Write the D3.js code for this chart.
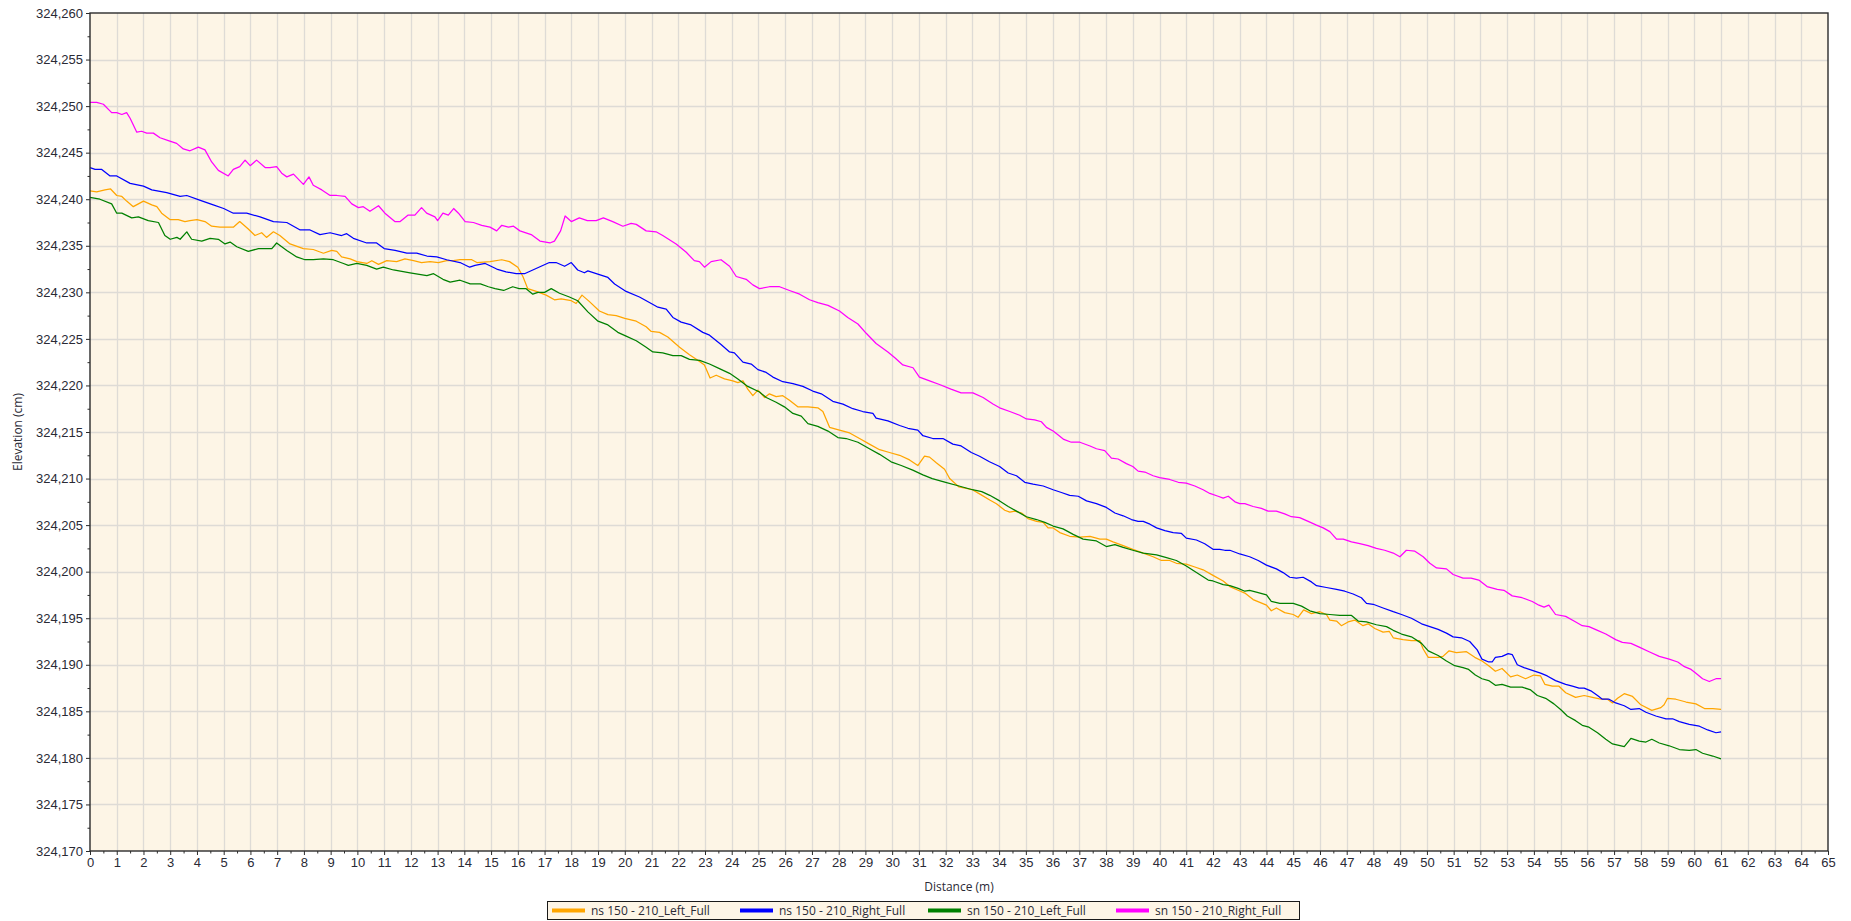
<!DOCTYPE html>
<html>
<head>
<meta charset="utf-8">
<script src="https://cdn.jsdelivr.net/npm/d3@7"></script>
<style>
  html, body { margin: 0; padding: 0; background: #ffffff; }
  svg { display: block; font-family: "Open Sans", "Segoe UI", "DejaVu Sans", sans-serif; }
</style>
</head>
<body>
<svg id="chart" width="1851" height="921"></svg>
<script>
// ---- Profile data: [distance (m), elevation (cm)] ----
const seriesNames = [
  "ns 150 - 210_Left_Full",
  "ns 150 - 210_Right_Full",
  "sn 150 - 210_Left_Full",
  "sn 150 - 210_Right_Full"
];
const seriesColors = ["#FFA500", "#0000FF", "#008000", "#FF00FF"];

const nsLeftFull = [
  [0,324240.9],[0.25,324240.8],[0.56,324241.0],[0.77,324241.1],[1.0,324240.4],[1.19,324240.3],[1.37,324239.8],[1.62,324239.2],
  [2.0,324239.8],[2.31,324239.4],[2.5,324239.2],[2.68,324238.5],[3.0,324237.8],[3.3,324237.8],[3.55,324237.6],[3.74,324237.7],
  [4.0,324237.8],[4.3,324237.6],[4.55,324237.1],[4.86,324237.0],[5.36,324237.0],[5.6,324237.6],[5.92,324236.8],[6.17,324236.1],
  [6.42,324236.4],[6.6,324235.9],[6.86,324236.5],[7.1,324236.1],[7.48,324235.2],[7.98,324234.7],[8.35,324234.6],[8.73,324234.2],
  [9.04,324234.5],[9.23,324234.4],[9.41,324233.8],[9.73,324233.6],[9.98,324233.3],[10.35,324233.1],[10.54,324233.4],[10.79,324233.0],
  [11.1,324233.4],[11.47,324233.3],[11.78,324233.6],[12.1,324233.4],[12.4,324233.2],[12.72,324233.3],[13.03,324233.2],[13.34,324233.4],
  [13.59,324233.4],[13.84,324233.5],[14.28,324233.5],[14.47,324233.2],[14.96,324233.3],[15.4,324233.5],[15.69,324233.3],[16.0,324232.7],
  [16.19,324231.7],[16.37,324230.4],[16.69,324230.1],[17.06,324229.7],[17.37,324229.2],[17.62,324229.3],[18.0,324229.1],[18.18,324228.8],
  [18.4,324229.7],[18.68,324229.0],[19.05,324228.0],[19.37,324227.6],[19.68,324227.5],[20.0,324227.2],[20.43,324226.9],[20.8,324226.3],
  [20.99,324225.8],[21.3,324225.7],[21.61,324225.2],[22.05,324224.1],[22.42,324223.3],[22.73,324222.7],[22.98,324222.2],[23.19,324220.8],
  [23.42,324221.1],[23.73,324220.7],[24.04,324220.5],[24.23,324220.3],[24.42,324220.5],[24.6,324219.6],[24.79,324218.9],[24.98,324219.5],
  [25.23,324218.7],[25.41,324219.1],[25.66,324218.8],[25.91,324218.9],[26.16,324218.4],[26.47,324217.7],[26.85,324217.7],[27.22,324217.6],
  [27.41,324217.2],[27.66,324215.5],[28.03,324215.2],[28.41,324214.9],[28.78,324214.3],[29.15,324213.7],[29.53,324213.1],[29.9,324212.8],
  [30.28,324212.5],[30.65,324212.0],[30.96,324211.4],[31.21,324212.4],[31.4,324212.3],[31.65,324211.7],[31.96,324211.0],[32.15,324210.0],
  [32.5,324209.1],[33.0,324208.8],[33.3,324208.3],[33.65,324207.7],[33.9,324207.3],[34.21,324206.6],[34.4,324206.4],[34.59,324206.5],
  [34.84,324206.3],[35.08,324205.7],[35.4,324205.4],[35.65,324205.3],[35.83,324204.7],[36.02,324204.7],[36.27,324204.2],[36.64,324203.8],
  [37.02,324203.7],[37.4,324203.8],[37.77,324203.5],[38.01,324203.5],[38.26,324203.2],[38.64,324202.8],[39.0,324202.4],[39.39,324202.0],
  [39.76,324201.6],[40.07,324201.2],[40.38,324201.2],[40.63,324200.9],[41.0,324200.8],[41.32,324200.5],[41.63,324200.2],[42.0,324199.6],
  [42.38,324199.0],[42.63,324198.4],[42.94,324198.0],[43.19,324197.7],[43.5,324197.0],[43.75,324196.7],[44.0,324196.4],[44.18,324195.8],
  [44.37,324196.1],[44.68,324195.6],[45.0,324195.4],[45.18,324195.1],[45.39,324195.9],[45.68,324195.5],[46.0,324195.7],[46.24,324195.4],
  [46.37,324194.8],[46.62,324194.7],[46.8,324194.2],[47.05,324194.6],[47.3,324194.8],[47.61,324194.2],[47.8,324194.4],[48.05,324193.9],
  [48.36,324193.5],[48.59,324193.6],[48.74,324192.9],[49.11,324192.7],[49.42,324192.6],[49.73,324192.6],[49.86,324191.7],[50.05,324190.8],
  [50.42,324190.8],[50.6,324190.9],[50.83,324191.5],[51.1,324191.3],[51.48,324191.4],[51.79,324190.8],[52.06,324190.4],[52.31,324189.9],
  [52.56,324189.3],[52.81,324189.6],[53.13,324188.7],[53.38,324188.9],[53.69,324188.5],[54.0,324188.9],[54.25,324188.8],[54.41,324187.9],
  [54.69,324187.7],[54.94,324187.7],[55.19,324187.0],[55.56,324186.5],[55.88,324186.7],[56.19,324186.5],[56.5,324186.3],[56.75,324186.3],
  [56.94,324185.9],[57.13,324186.4],[57.38,324186.9],[57.69,324186.6],[58.0,324185.7],[58.41,324185.1],[58.75,324185.4],[58.87,324185.7],
  [59.0,324186.4],[59.31,324186.3],[59.69,324186.0],[60.06,324185.8],[60.38,324185.3],[60.69,324185.3],[61.0,324185.2]
];

const nsRightFull = [
  [0,324243.4],[0.19,324243.2],[0.44,324243.2],[0.75,324242.5],[1.0,324242.5],[1.5,324241.7],[2.0,324241.4],[2.31,324241.0],
  [2.87,324240.7],[3.37,324240.3],[3.62,324240.4],[4.1,324239.9],[4.61,324239.4],[5.0,324239.0],[5.36,324238.5],[5.86,324238.5],
  [6.36,324238.1],[6.86,324237.6],[7.36,324237.5],[7.86,324236.7],[8.23,324236.7],[8.6,324236.2],[8.98,324236.4],[9.41,324236.1],
  [9.6,324236.3],[9.85,324235.8],[10.35,324235.3],[10.72,324235.3],[11.0,324234.7],[11.41,324234.5],[11.85,324234.2],[12.22,324234.2],
  [12.6,324233.9],[12.97,324233.8],[13.34,324233.5],[13.84,324233.2],[14.2,324232.7],[14.4,324232.9],[14.78,324233.1],[15.21,324232.5],
  [15.56,324232.2],[15.94,324232.0],[16.25,324232.0],[16.56,324232.4],[16.87,324232.8],[17.18,324233.2],[17.43,324233.2],[17.75,324232.8],
  [18.0,324233.2],[18.24,324232.4],[18.49,324232.1],[18.62,324232.3],[19.05,324231.9],[19.37,324231.6],[19.62,324230.9],[20.05,324230.1],
  [20.55,324229.5],[20.99,324228.8],[21.24,324228.4],[21.55,324228.2],[21.8,324227.3],[22.11,324226.8],[22.48,324226.5],[22.92,324225.7],
  [23.17,324225.4],[23.6,324224.4],[23.92,324223.6],[24.1,324223.5],[24.42,324222.5],[24.73,324222.3],[24.98,324221.7],[25.29,324221.4],
  [25.54,324220.9],[25.91,324220.4],[26.29,324220.2],[26.66,324219.9],[27.03,324219.4],[27.35,324219.1],[27.78,324218.3],[28.16,324218.0],
  [28.53,324217.5],[28.9,324217.2],[29.28,324217.0],[29.4,324216.5],[29.84,324216.2],[30.28,324215.7],[30.59,324215.4],[30.96,324215.2],
  [31.15,324214.6],[31.52,324214.3],[31.9,324214.3],[32.27,324213.7],[32.58,324213.5],[32.96,324212.8],[33.27,324212.4],[33.64,324211.8],
  [34.02,324211.3],[34.34,324210.6],[34.65,324210.3],[34.96,324209.6],[35.27,324209.4],[35.65,324209.2],[36.02,324208.8],[36.33,324208.5],
  [36.64,324208.2],[36.96,324208.1],[37.27,324207.6],[37.64,324207.3],[38.01,324206.9],[38.33,324206.3],[38.64,324206.0],[38.95,324205.6],
  [39.2,324205.4],[39.39,324205.4],[39.64,324205.1],[39.89,324204.7],[40.2,324204.4],[40.51,324204.2],[40.82,324204.1],[41.0,324203.6],
  [41.38,324203.4],[41.69,324203.0],[42.0,324202.4],[42.25,324202.4],[42.44,324202.3],[42.63,324202.3],[43.0,324201.9],[43.37,324201.6],
  [43.69,324201.2],[44.0,324200.7],[44.37,324200.3],[44.62,324199.9],[44.87,324199.4],[45.12,324199.3],[45.37,324199.4],[45.68,324198.9],
  [45.87,324198.5],[46.24,324198.3],[46.62,324198.1],[46.93,324197.9],[47.24,324197.6],[47.55,324197.2],[47.74,324196.6],[47.99,324196.5],
  [48.36,324196.1],[48.74,324195.7],[49.05,324195.4],[49.42,324195.0],[49.8,324194.4],[50.11,324194.1],[50.42,324193.8],[50.73,324193.4],
  [50.98,324193.0],[51.29,324192.9],[51.6,324192.5],[51.88,324191.6],[52.06,324190.6],[52.31,324190.3],[52.44,324190.3],[52.56,324190.8],
  [52.81,324190.9],[53.04,324191.2],[53.19,324191.1],[53.38,324190.0],[53.63,324189.7],[53.94,324189.4],[54.25,324189.1],[54.5,324188.8],
  [54.81,324188.3],[55.19,324187.9],[55.44,324187.7],[55.69,324187.5],[55.88,324187.5],[56.13,324187.2],[56.38,324186.7],[56.56,324186.3],
  [56.81,324186.3],[57.06,324185.9],[57.38,324185.6],[57.63,324185.2],[57.94,324185.3],[58.19,324184.9],[58.56,324184.5],[58.94,324184.2],
  [59.19,324184.2],[59.44,324183.9],[59.81,324183.6],[60.19,324183.4],[60.5,324183.0],[60.81,324182.7],[61.0,324182.8]
];

const snLeftFull = [
  [0,324240.2],[0.37,324240.0],[0.81,324239.5],[1.0,324238.5],[1.19,324238.5],[1.56,324238.0],[1.81,324238.1],[2.18,324237.7],
  [2.56,324237.5],[2.8,324236.1],[3.0,324235.7],[3.25,324235.9],[3.37,324235.7],[3.62,324236.5],[3.8,324235.7],[4.18,324235.5],
  [4.49,324235.8],[4.8,324235.7],[5.05,324235.2],[5.24,324235.4],[5.49,324234.9],[5.92,324234.4],[6.3,324234.7],[6.8,324234.7],
  [6.98,324235.3],[7.36,324234.5],[7.73,324233.8],[8.04,324233.5],[8.35,324233.5],[8.73,324233.6],[9.1,324233.5],[9.48,324233.1],
  [9.66,324232.9],[9.98,324233.1],[10.35,324232.9],[10.72,324232.5],[10.97,324232.7],[11.35,324232.4],[11.97,324232.1],[12.6,324231.8],
  [12.85,324232.0],[13.2,324231.4],[13.47,324231.1],[13.84,324231.3],[14.22,324230.9],[14.6,324230.9],[14.9,324230.6],[15.15,324230.4],
  [15.47,324230.2],[15.81,324230.6],[16.05,324230.4],[16.3,324230.4],[16.56,324229.8],[16.75,324230.0],[17.0,324230.0],[17.25,324230.4],
  [17.56,324229.9],[17.93,324229.5],[18.24,324229.1],[18.62,324227.9],[19.0,324226.9],[19.37,324226.5],[19.74,324225.7],[20.05,324225.3],
  [20.43,324224.8],[20.8,324224.1],[21.05,324223.6],[21.42,324223.5],[21.8,324223.2],[22.11,324223.2],[22.42,324222.8],[22.8,324222.7],
  [23.17,324222.3],[23.54,324221.8],[23.92,324221.3],[24.23,324220.7],[24.6,324219.9],[25.04,324219.3],[25.29,324218.7],[25.66,324218.2],
  [25.97,324217.7],[26.29,324217.0],[26.6,324216.7],[26.85,324215.9],[27.22,324215.6],[27.6,324215.1],[27.97,324214.4],[28.28,324214.3],
  [28.72,324213.9],[29.15,324213.2],[29.53,324212.6],[29.96,324211.8],[30.34,324211.4],[30.77,324210.9],[31.15,324210.4],[31.5,324210.0],
  [32.0,324209.6],[32.5,324209.2],[33.0,324208.8],[33.35,324208.6],[33.65,324208.2],[34.02,324207.6],[34.34,324207.0],[34.65,324206.5],
  [35.02,324205.9],[35.4,324205.6],[35.71,324205.3],[36.02,324204.9],[36.39,324204.6],[36.77,324204.0],[37.14,324203.5],[37.64,324203.3],
  [38.01,324202.7],[38.33,324202.9],[38.64,324202.6],[39.0,324202.3],[39.39,324202.0],[39.89,324201.8],[40.26,324201.5],[40.63,324201.2],
  [41.0,324200.6],[41.38,324199.9],[41.82,324199.1],[42.0,324199.0],[42.38,324198.6],[42.63,324198.5],[42.94,324198.2],[43.19,324197.9],
  [43.37,324198.0],[43.62,324197.8],[44.0,324197.5],[44.18,324196.8],[44.5,324196.6],[45.0,324196.6],[45.31,324196.3],[45.62,324195.8],
  [46.0,324195.5],[46.37,324195.4],[46.74,324195.3],[47.18,324195.3],[47.43,324194.7],[47.74,324194.6],[48.11,324194.3],[48.49,324194.1],
  [48.74,324193.7],[49.05,324193.3],[49.42,324193.0],[49.8,324192.3],[50.05,324191.5],[50.42,324191.0],[50.73,324190.4],[51.04,324189.9],
  [51.35,324189.7],[51.56,324189.5],[51.81,324188.9],[52.06,324188.5],[52.31,324188.3],[52.56,324187.8],[52.81,324187.9],[53.13,324187.6],
  [53.56,324187.6],[53.88,324187.3],[54.13,324186.7],[54.44,324186.4],[54.75,324185.8],[55.0,324185.2],[55.25,324184.5],[55.56,324184.0],
  [55.81,324183.5],[56.06,324183.3],[56.38,324182.7],[56.69,324182.0],[56.94,324181.5],[57.38,324181.2],[57.63,324182.1],[57.94,324181.8],
  [58.19,324181.7],[58.41,324182.0],[58.69,324181.6],[59.06,324181.3],[59.44,324180.9],[59.81,324180.8],[60.06,324180.9],[60.31,324180.5],
  [60.69,324180.2],[61.0,324179.9]
];

const snRightFull = [
  [0,324250.4],[0.25,324250.4],[0.5,324250.2],[0.81,324249.3],[1.0,324249.3],[1.19,324249.1],[1.37,324249.3],[1.5,324248.7],
  [1.75,324247.2],[1.93,324247.3],[2.12,324247.1],[2.37,324247.1],[2.62,324246.6],[2.93,324246.3],[3.24,324246.0],[3.49,324245.4],
  [3.74,324245.2],[4.05,324245.6],[4.3,324245.3],[4.55,324244.0],[4.8,324243.1],[5.17,324242.5],[5.36,324243.2],[5.6,324243.5],
  [5.8,324244.2],[5.99,324243.6],[6.23,324244.2],[6.55,324243.4],[6.73,324243.4],[6.98,324243.5],[7.17,324242.8],[7.36,324242.4],
  [7.61,324242.7],[7.98,324241.6],[8.19,324242.4],[8.35,324241.5],[8.67,324241.0],[8.98,324240.4],[9.23,324240.4],[9.54,324240.3],
  [9.79,324239.5],[10.04,324239.1],[10.22,324239.2],[10.47,324238.7],[10.79,324239.3],[11.03,324238.5],[11.4,324237.6],[11.6,324237.6],
  [11.9,324238.3],[12.15,324238.3],[12.4,324239.1],[12.59,324238.5],[12.9,324238.1],[13.0,324237.7],[13.2,324238.5],[13.4,324238.3],
  [13.6,324239.0],[13.78,324238.5],[14.03,324237.6],[14.34,324237.5],[14.65,324237.2],[14.96,324237.0],[15.21,324236.6],[15.4,324237.2],
  [15.65,324237.0],[15.84,324237.1],[16.08,324236.6],[16.5,324236.2],[16.83,324235.5],[17.2,324235.3],[17.37,324235.5],[17.6,324236.6],
  [17.77,324238.2],[18.0,324237.6],[18.3,324238.0],[18.6,324237.7],[18.93,324237.7],[19.2,324238.0],[19.55,324237.6],[19.93,324237.1],
  [20.24,324237.4],[20.43,324237.3],[20.8,324236.6],[21.17,324236.5],[21.42,324236.1],[21.92,324235.2],[22.3,324234.3],[22.6,324233.4],
  [22.79,324233.3],[22.98,324232.7],[23.23,324233.3],[23.6,324233.5],[23.92,324232.8],[24.17,324231.7],[24.54,324231.4],[24.79,324230.8],
  [25.04,324230.4],[25.41,324230.6],[25.79,324230.6],[26.16,324230.2],[26.54,324229.8],[26.91,324229.2],[27.22,324228.9],[27.6,324228.6],
  [28.03,324228.0],[28.34,324227.3],[28.72,324226.6],[29.03,324225.6],[29.4,324224.5],[29.84,324223.6],[30.09,324223.0],[30.4,324222.2],
  [30.78,324221.9],[31.02,324220.9],[31.4,324220.5],[31.77,324220.1],[32.2,324219.6],[32.58,324219.2],[33.02,324219.2],[33.4,324218.7],
  [33.77,324218.0],[34.02,324217.6],[34.4,324217.2],[34.77,324216.8],[35.02,324216.4],[35.33,324216.3],[35.58,324216.1],[35.77,324215.5],
  [36.02,324215.1],[36.2,324214.7],[36.42,324214.2],[36.7,324213.9],[37.02,324213.9],[37.4,324213.5],[37.64,324213.2],[37.95,324213.0],
  [38.2,324212.2],[38.45,324212.1],[38.76,324211.6],[39.0,324211.3],[39.2,324210.8],[39.45,324210.7],[39.76,324210.3],[40.0,324210.1],
  [40.38,324209.9],[40.7,324209.6],[41.0,324209.5],[41.32,324209.2],[41.63,324208.8],[41.88,324208.4],[42.19,324208.1],[42.38,324207.9],
  [42.57,324208.1],[42.82,324207.5],[43.0,324207.3],[43.19,324207.3],[43.5,324207.0],[43.81,324206.8],[44.06,324206.5],[44.37,324206.5],
  [44.68,324206.2],[44.93,324205.9],[45.24,324205.8],[45.56,324205.4],[45.87,324205.0],[46.12,324204.7],[46.37,324204.3],[46.62,324203.5],
  [46.87,324203.5],[47.18,324203.2],[47.49,324203.0],[47.8,324202.8],[48.11,324202.5],[48.42,324202.3],[48.74,324202.0],[48.99,324201.6],
  [49.23,324202.3],[49.55,324202.2],[49.86,324201.6],[50.11,324200.9],[50.36,324200.4],[50.73,324200.3],[50.98,324199.7],[51.35,324199.3],
  [51.65,324199.3],[51.94,324199.1],[52.25,324198.4],[52.63,324198.1],[52.88,324198.0],[53.19,324197.4],[53.56,324197.2],[53.94,324196.8],
  [54.19,324196.4],[54.38,324196.2],[54.56,324196.4],[54.81,324195.4],[55.19,324195.2],[55.5,324194.7],[55.81,324194.2],[56.06,324194.1],
  [56.38,324193.7],[56.69,324193.3],[57.06,324192.7],[57.31,324192.4],[57.63,324192.3],[57.94,324191.9],[58.31,324191.4],[58.69,324190.9],
  [59.06,324190.6],[59.38,324190.3],[59.63,324189.8],[59.88,324189.5],[60.06,324189.1],[60.31,324188.5],[60.56,324188.2],[60.81,324188.5],
  [61.0,324188.5]
];

// ---- Axis ticks ----
const distanceTicks = d3.range(0, 66);          // 0 .. 65 m
const distanceMinorTicks = d3.range(0.5, 65, 1);
const elevationTicks = [324170, 324175, 324180, 324185, 324190, 324195, 324200, 324205, 324210,
                        324215, 324220, 324225, 324230, 324235, 324240, 324245, 324250, 324255, 324260];
const elevationMinorTicks = elevationTicks.slice(0, -1).map(v => v + 2.5);

const allSeries = [nsLeftFull, nsRightFull, snLeftFull, snRightFull];

// ---- Layout ----
const plot = { left: 90, right: 1828, top: 13, bottom: 851 };
const svg = d3.select("#chart");

const x = d3.scaleLinear().domain([0, 65]).range([plot.left, plot.right]);
const y = d3.scaleLinear().domain([324170, 324260]).range([plot.bottom, plot.top]);

// Plot background
svg.append("rect")
  .attr("x", plot.left).attr("y", plot.top)
  .attr("width", plot.right - plot.left).attr("height", plot.bottom - plot.top)
  .attr("fill", "#fdf5e6");

// Grid
const grid = svg.append("g").attr("stroke", "#dedbd6").attr("stroke-width", 1.3);
grid.selectAll("line.vx").data(distanceTicks.slice(1, -1)).join("line")
  .attr("x1", d => Math.round(x(d)) + 0.5).attr("x2", d => Math.round(x(d)) + 0.5)
  .attr("y1", plot.top).attr("y2", plot.bottom);
grid.selectAll("line.hy").data(elevationTicks.slice(1, -1)).join("line")
  .attr("y1", d => Math.round(y(d)) + 0.5).attr("y2", d => Math.round(y(d)) + 0.5)
  .attr("x1", plot.left).attr("x2", plot.right);

// Series lines
const line = d3.line().x(d => x(d[0])).y(d => y(d[1]));
svg.append("g").selectAll("path").data(allSeries).join("path")
  .attr("d", line)
  .attr("fill", "none")
  .attr("stroke", (d, i) => seriesColors[i])
  .attr("stroke-width", 1.25)
  .attr("stroke-linejoin", "round");

// Plot frame
svg.append("rect")
  .attr("x", plot.left).attr("y", plot.top)
  .attr("width", plot.right - plot.left).attr("height", plot.bottom - plot.top)
  .attr("fill", "none").attr("stroke", "#2b2b2b").attr("stroke-width", 1.4);

// Axes
const tickFont = g => g.selectAll("text")
  .attr("fill", "#2a2a35").attr("font-size", 13);

const xAxis = svg.append("g")
  .attr("transform", `translate(0,${plot.bottom})`)
  .call(d3.axisBottom(x).tickValues(distanceTicks).tickFormat(d3.format("d")).tickSize(4).tickPadding(3));
xAxis.select(".domain").remove();
xAxis.selectAll("line").attr("stroke", "#2b2b2b");
xAxis.call(tickFont);

const xMinor = svg.append("g")
  .attr("transform", `translate(0,${plot.bottom})`)
  .call(d3.axisBottom(x).tickValues(distanceMinorTicks).tickFormat("").tickSize(2.5));
xMinor.select(".domain").remove();
xMinor.selectAll("line").attr("stroke", "#2b2b2b");

const yAxis = svg.append("g")
  .attr("transform", `translate(${plot.left},0)`)
  .call(d3.axisLeft(y).tickValues(elevationTicks).tickFormat(d3.format(",")).tickSize(4).tickPadding(3));
yAxis.select(".domain").remove();
yAxis.selectAll("line").attr("stroke", "#2b2b2b");
yAxis.call(tickFont);

const yMinor = svg.append("g")
  .attr("transform", `translate(${plot.left},0)`)
  .call(d3.axisLeft(y).tickValues(elevationMinorTicks).tickFormat("").tickSize(2.5));
yMinor.select(".domain").remove();
yMinor.selectAll("line").attr("stroke", "#2b2b2b");

// Axis titles
svg.append("text")
  .attr("x", (plot.left + plot.right) / 2).attr("y", 891)
  .attr("text-anchor", "middle").attr("font-size", 12).attr("fill", "#2a2a35")
  .text("Distance (m)");

svg.append("text")
  .attr("transform", `translate(22,${(plot.top + plot.bottom) / 2}) rotate(-90)`)
  .attr("text-anchor", "middle").attr("font-size", 12).attr("fill", "#2a2a35")
  .text("Elevation (cm)");

// Legend
const legend = { x: 547, y: 901, w: 752, h: 18, item: 188 };
const lg = svg.append("g");
lg.append("rect")
  .attr("x", legend.x + 0.5).attr("y", legend.y + 0.5)
  .attr("width", legend.w).attr("height", legend.h)
  .attr("fill", "#fdf5e6").attr("stroke", "#1a1a1a").attr("stroke-width", 1);
const items = lg.selectAll("g.item").data(seriesNames).join("g")
  .attr("transform", (d, i) => `translate(${legend.x + 5 + i * legend.item},${legend.y + legend.h / 2 + 0.5})`);
items.append("line")
  .attr("x1", 0).attr("x2", 33).attr("y1", 0).attr("y2", 0)
  .attr("stroke", (d, i) => seriesColors[i]).attr("stroke-width", 4);
items.append("text")
  .attr("x", 39).attr("y", 0).attr("dy", "0.35em")
  .attr("font-size", 12).attr("fill", "#2a2a35")
  .text(d => d);
</script>
</body>
</html>
